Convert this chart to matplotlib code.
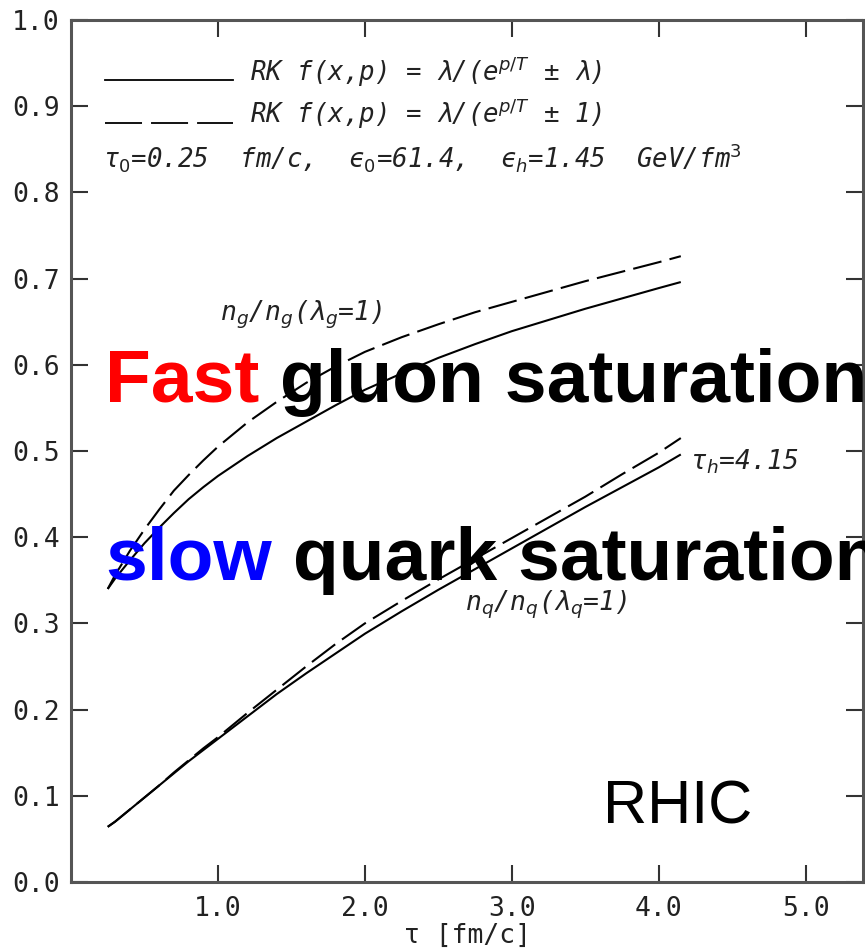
import matplotlib
matplotlib.use("Agg")
import matplotlib.pyplot as plt

# proper time tau [fm/c]
tau = [0.25, 0.3, 0.4, 0.5, 0.6, 0.7, 0.8, 0.9, 1.0, 1.2, 1.4, 1.6, 1.8, 2.0,
       2.25, 2.5, 2.75, 3.0, 3.25, 3.5, 3.75, 4.0, 4.15]

# gluon density relative to full equilibrium
gluon_lambda = [0.340, 0.352, 0.373, 0.393, 0.411, 0.428, 0.444, 0.458, 0.471, 0.494,
                0.515, 0.534, 0.553, 0.571, 0.590, 0.608, 0.624, 0.639, 0.652, 0.665,
                0.677, 0.689, 0.696]
gluon_one = [0.340, 0.356, 0.384, 0.409, 0.432, 0.454, 0.472, 0.489, 0.505, 0.533,
             0.557, 0.579, 0.598, 0.615, 0.632, 0.647, 0.661, 0.673, 0.685, 0.697,
             0.708, 0.719, 0.726]

# quark density relative to full equilibrium
quark_lambda = [0.064, 0.070, 0.084, 0.098, 0.112, 0.126, 0.140, 0.153, 0.166, 0.192,
                0.218, 0.242, 0.265, 0.288, 0.314, 0.339, 0.363, 0.387, 0.411, 0.435,
                0.458, 0.481, 0.496]
quark_one = [0.064, 0.070, 0.084, 0.098, 0.112, 0.127, 0.141, 0.155, 0.168, 0.196,
             0.223, 0.250, 0.276, 0.300, 0.326, 0.351, 0.375, 0.399, 0.423, 0.447,
             0.473, 0.498, 0.515]

x_ticks = [1.0, 2.0, 3.0, 4.0, 5.0]
y_ticks = [0.0, 0.1, 0.2, 0.3, 0.4, 0.5, 0.6, 0.7, 0.8, 0.9, 1.0]

W, H = 865, 952
fig = plt.figure(figsize=(W / 100, H / 100), dpi=100)
ax = fig.add_axes([71 / W, 1 - 882 / H, (863 - 71) / W, (882 - 20) / H])

lw = 1.5
dash = (14, 4)
ax.plot(tau, gluon_lambda, color="black", lw=lw, solid_capstyle="butt")
ax.plot(tau, gluon_one, color="black", lw=lw, dashes=dash)
ax.plot(tau, quark_lambda, color="black", lw=lw, solid_capstyle="butt")
ax.plot(tau, quark_one, color="black", lw=lw, dashes=dash)

ax.set_xlim(0, 5.39)
ax.set_ylim(0, 1.0)
ax.set_xticks(x_ticks)
ax.set_yticks(y_ticks)
ax.set_xticklabels([f"{v:.1f}" for v in x_ticks])
ax.set_yticklabels([f"{v:.1f}" for v in y_ticks])

mono = ["DejaVu Sans Mono", "DejaVu Sans"]
for lab in ax.get_xticklabels() + ax.get_yticklabels():
    lab.set_fontfamily(mono)
    lab.set_fontsize(19)
    lab.set_color("#222222")

ax.tick_params(direction="in", length=12, width=1.5, color="#333333",
               top=True, right=True, labeltop=False, labelright=False)
ax.tick_params(axis="x", pad=10)
ax.tick_params(axis="y", pad=8)
for s in ax.spines.values():
    s.set_linewidth(2.2)
    s.set_color("#555555")

ax.set_xlabel("τ [fm/c]", fontfamily=mono, fontsize=19,
              labelpad=1, color="#222222")

# legend block drawn in axes-fraction coordinates
tf = ax.transAxes
def ax_frac(px, py):
    return ((px - 71) / (863 - 71), (882 - py) / (882 - 20))

x0, y0 = ax_frac(105, 80)
x1, _ = ax_frac(233, 80)
ax.plot([x0, x1], [y0, y0], transform=tf, color="black", lw=1.3)
_, y1 = ax_frac(105, 123)
ax.plot([x0, x1], [y1, y1], transform=tf, color="black", lw=1.3, dashes=(20.5, 5))

leg_kw = dict(transform=tf, fontsize=18.5, style="italic", color="#222222",
              va="center", ha="left", family=mono)
tx, ty = ax_frac(250, 72)
ax.text(tx, ty, r"RK f(x,p) = λ/(e$^{p/T}$ ± λ)", **leg_kw)
tx, ty = ax_frac(250, 114)
ax.text(tx, ty, r"RK f(x,p) = λ/(e$^{p/T}$ ± 1)", **leg_kw)
tx, ty = ax_frac(103, 158)
ax.text(tx, ty, r"τ$_0$=0.25  fm/c,  ϵ$_0$=61.4,  ϵ$_h$=1.45  GeV/fm$^3$", **leg_kw)

# curve labels
lab_kw = dict(fontsize=19, style="italic", color="#222222", family=mono)
ax.text(*ax_frac(220, 315), r"n$_g$/n$_g$(λ$_g$=1)", transform=tf, va="center", ha="left", **lab_kw)
ax.text(*ax_frac(690, 462), r"τ$_h$=4.15", transform=tf, va="center", ha="left", **lab_kw)
ax.text(*ax_frac(465, 605), r"n$_q$/n$_q$(λ$_q$=1)", transform=tf, va="center", ha="left", **lab_kw)

# overlay captions
big = dict(fontsize=54, fontweight="bold", family="Liberation Sans", va="baseline")
bx, by = 105 / W, 1 - 402 / H
t = fig.text(bx, by, "Fast", color="#ff0000", **big)
fig.canvas.draw()
r = fig.canvas.get_renderer()
bb = t.get_window_extent(r)
fig.text(bb.x1 / W, by, " gluon saturation", color="black", **big)

by2 = 1 - 580 / H
t2 = fig.text(bx, by2, "slow", color="#0000ff", **big)
fig.canvas.draw()
bb2 = t2.get_window_extent(r)
fig.text(bb2.x1 / W, by2, " quark saturation", color="black", **big)

fig.text(603 / W, 1 - 823 / H, "RHIC", fontsize=44, family="Liberation Sans",
         color="black", va="baseline")

fig.savefig("out.png", dpi=100)
